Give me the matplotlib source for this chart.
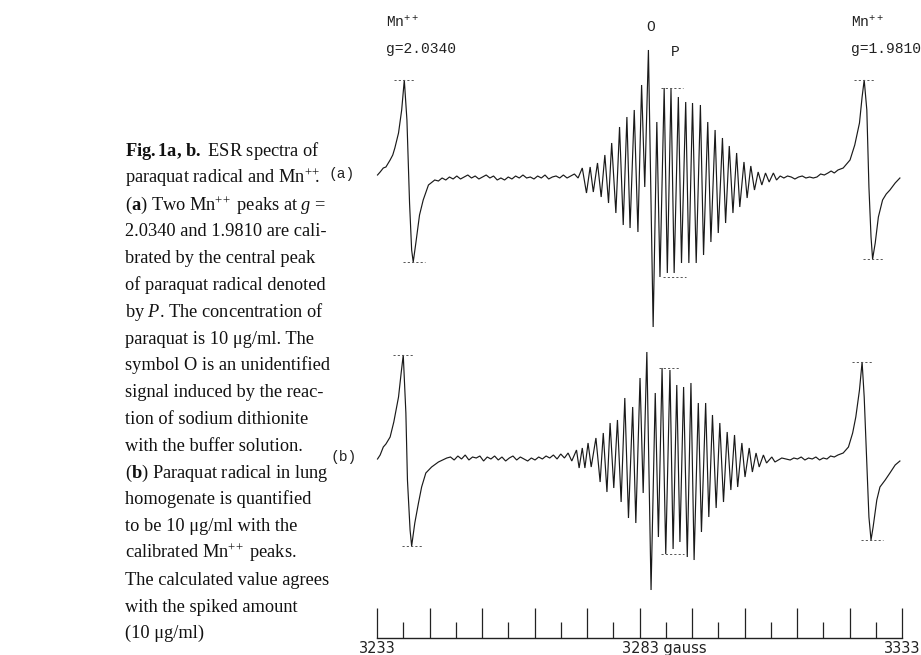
import numpy as np
import matplotlib
matplotlib.use("Agg")
import matplotlib.pyplot as plt
import matplotlib.transforms as mtransforms

plt.rcParams['mathtext.fontset'] = 'custom'
plt.rcParams['mathtext.rm'] = 'Liberation Serif'
plt.rcParams['mathtext.it'] = 'Liberation Serif:italic'
plt.rcParams['mathtext.bf'] = 'Liberation Serif:bold'

# ---------------- data (field in gauss, signal in arbitrary units) ----------------
# spectrum (a)
a_mn_low_field = [3233.1, 3233.6, 3234.2, 3234.7, 3235.5, 3236.0, 3236.4, 3237.1, 3237.7, 3238.2,
                  3238.7, 3239.2, 3239.6, 3239.9, 3240.4, 3241.1, 3241.8, 3242.8, 3244.0]
a_mn_low_signal = [2, 5, 9, 10, 17, 22, 29, 44, 67, 97,
                   57, -26, -73, -85, -66, -38, -23, -8, -3]

a_base1_field = [3244.7, 3245.4, 3246.1, 3246.8, 3247.5, 3248.2, 3248.9, 3249.6, 3250.3, 3251.0,
                 3251.7, 3252.4, 3253.1, 3253.8, 3254.5, 3255.2, 3255.9, 3256.6, 3257.3, 3258.0,
                 3258.7, 3259.4, 3260.1, 3260.8, 3261.5, 3262.2, 3262.9, 3263.6, 3264.3, 3265.0,
                 3265.7, 3266.4, 3267.1, 3267.8, 3268.5, 3269.2, 3269.9, 3270.6, 3271.3]
a_base1_signal = [-4, -1, -3, 0, -2, 1, -2, 0, 2, -1,
                  1, -2, 0, 2, -1, 1, -3, -1, -3, 0,
                  -2, 1, -1, 2, -1, 0, -2, 1, -1, 2,
                  -2, 0, 1, -1, 2, -1, 1, 3, -1]

a_hf_field = [3272.1, 3272.9, 3273.6, 3274.2, 3275.0, 3275.7, 3276.4, 3277.1, 3277.7, 3278.5,
              3279.2, 3279.9, 3280.6, 3281.2, 3282.0, 3282.7, 3283.4, 3284.0, 3284.7, 3285.6,
              3286.3, 3286.9, 3287.7, 3288.3, 3289.0, 3289.6, 3290.4, 3291.0, 3291.8, 3292.4,
              3293.1, 3293.8, 3294.6, 3295.2, 3296.0, 3296.6, 3297.4, 3298.0, 3298.8, 3299.4,
              3300.1, 3300.8, 3301.5, 3302.1, 3302.9, 3303.5, 3304.2, 3304.9, 3305.6, 3306.3,
              3307.0, 3307.7, 3308.5, 3309.1]
a_hf_signal = [9, -16, 10, -15, 14, -20, 22, -26, 34, -36,
               50, -48, 60, -51, 67, -55, 92, -10, 127, -150,
               55, -100, 89, -96, 88, -96, 80, -86, 75, -86,
               74, -86, 72, -78, 55, -65, 47, -56, 39, -46,
               31, -36, 24, -30, 15, -21, 11, -13, 5, -8,
               4, -5, 4, -3]

a_base2_field = [3309.8, 3310.5, 3311.2, 3311.9, 3312.6, 3313.3, 3314.0, 3314.7, 3315.4, 3316.1,
                 3316.8, 3317.5, 3318.2]
a_base2_signal = [1, -1, 1, 0, -2, 0, 1, -1, 0, -1, 0, 3, 2]

a_mn_high_field = [3318.9, 3319.5, 3320.1, 3320.8, 3321.8, 3323.1, 3324.0, 3324.9, 3325.4, 3325.8,
                   3326.3, 3326.7, 3327.1, 3327.4, 3327.9, 3328.5, 3329.3, 3330.0, 3330.7, 3331.7,
                   3332.6]
a_mn_high_signal = [4, 6, 4, 7, 9, 17, 32, 54, 80, 97,
                    67, -10, -60, -82, -66, -40, -23, -17, -13, -6,
                    -1]

# spectrum (b)
b_mn_low_field = [3233.1, 3233.6, 3234.2, 3234.7, 3235.5, 3236.2, 3237.1, 3237.6, 3238.0, 3238.5,
                  3238.8, 3239.3, 3239.6, 3240.2, 3240.9, 3241.5, 3242.3, 3243.4, 3244.7, 3246.3]
b_mn_low_signal = [0, 4, 12, 15, 22, 37, 62, 86, 104, 46,
                   -21, -71, -87, -64, -44, -28, -14, -8, -3, 1]

b_base1_field = [3247.0, 3247.7, 3248.4, 3249.1, 3249.8, 3250.5, 3251.2, 3251.9, 3252.6, 3253.3,
                 3254.0, 3254.7, 3255.4, 3256.1, 3256.8, 3257.5, 3258.2, 3258.9, 3259.6, 3260.3,
                 3261.0, 3261.7, 3262.4, 3263.1, 3263.8, 3264.5, 3265.2, 3265.9, 3266.6, 3267.3,
                 3268.0, 3268.7, 3269.4, 3270.1]
b_base1_signal = [2, -1, 3, 0, 4, -1, 2, 1, 3, -2,
                  2, 0, 3, -1, 2, -2, 1, 3, -1, 2,
                  0, -2, 1, -1, 2, 0, 3, 1, 4, 0,
                  5, 1, 6, -2]

b_hf_field = [3271.0, 3271.5, 3272.1, 3272.6, 3273.2, 3273.8, 3274.7, 3275.5, 3276.1, 3276.8,
              3277.4, 3278.1, 3278.8, 3279.5, 3280.2, 3280.9, 3281.7, 3282.3, 3283.1, 3283.7,
              3284.4, 3285.2, 3286.0, 3286.6, 3287.3, 3288.0, 3288.8, 3289.4, 3290.1, 3290.7,
              3291.4, 3292.1, 3292.8, 3293.4, 3294.2, 3294.8, 3295.6, 3296.2, 3296.9, 3297.6,
              3298.3, 3299.0, 3299.7, 3300.4, 3301.1, 3301.7, 3302.5, 3303.1, 3303.9, 3304.5,
              3305.2, 3305.8, 3306.6, 3307.2, 3308.2, 3308.8, 3310.1, 3311.7]
b_hf_signal = [9, -9, 11, -9, 16, -8, 21, -23, 26, -33,
               36, -29, 39, -43, 61, -59, 52, -64, 81, -34,
               107, -131, 66, -78, 91, -95, 89, -90, 74, -83,
               72, -98, 76, -101, 56, -73, 56, -58, 44, -49,
               36, -43, 27, -31, 24, -28, 16, -18, 11, -13,
               6, -8, 4, -4, 2, -3, 1, -1]

b_base2_field = [3312.4, 3313.1, 3313.8, 3314.5, 3315.2, 3315.9, 3316.6, 3317.3, 3318.0, 3318.7,
                 3319.4, 3320.1, 3320.8]
b_base2_signal = [1, 0, 2, -1, 1, 0, 2, -1, 1, 0, 3, 2, 4]

b_mn_high_field = [3321.8, 3322.8, 3323.6, 3324.2, 3324.9, 3325.4, 3325.8, 3326.3, 3326.7, 3327.1,
                   3327.5, 3328.2, 3328.8, 3329.8, 3330.7, 3331.7, 3332.6]
b_mn_high_signal = [6, 12, 26, 42, 69, 97, 62, -4, -58, -81,
                    -68, -41, -28, -21, -14, -6, -2]

# field scale
field_range = [3233, 3333]
scale_label_fields = [3233, 3283, 3333]
scale_labels = ['3233', '3283 gauss', '3333']

# text
mn_labels = [r'Mn$^{\mathregular{++}}$', r'Mn$^{\mathregular{++}}$']
g_labels = ['g=2.0340', 'g=1.9810']
caption_lines = [
    r'$\mathbf{Fig.1a,\,b.}$ ESR spectra of',
    r'paraquat radical and Mn$^{+\!+}\!\!\!\mathregular{.}$',
    r'($\mathbf{a}$) Two Mn$^{+\!+}$ peaks at $g$ =',
    '2.0340 and 1.9810 are cali-',
    'brated by the central peak',
    'of paraquat radical denoted',
    r'by $P$. The concentration of',
    'paraquat is 10 μg/ml. The',
    'symbol O is an unidentified',
    'signal induced by the reac-',
    'tion of sodium dithionite',
    'with the buffer solution.',
    r'($\mathbf{b}$) Paraquat radical in lung',
    'homogenate is quantified',
    'to be 10 μg/ml with the',
    r'calibrated Mn$^{+\!+}$ peaks.',
    'The calculated value agrees',
    'with the spiked amount',
    '(10 μg/ml)',
]

# ---------------- figure ----------------
W, H = 921, 655
fig = plt.figure(figsize=(W / 100, H / 100), dpi=100)
fig.patch.set_facecolor('white')

def px(x0, y0, x1, y1):
    return [x0 / W, 1 - y1 / H, (x1 - x0) / W, (y1 - y0) / H]

ax_a = fig.add_axes(px(377, 40, 902, 335))
ax_b = fig.add_axes(px(377, 335, 902, 600))
ax_s = fig.add_axes(px(377, 600, 902, 638))

line_kw = dict(color='#1a1a1a', lw=0.85, clip_on=False, solid_joinstyle='miter')
dash_kw = dict(colors='#555555', lw=0.7, linestyles=(0, (2.2, 2.2)))

def draw_spectrum(ax, segments, ylim):
    f = np.concatenate([np.asarray(s[0], float) for s in segments])
    s = np.concatenate([np.asarray(s[1], float) for s in segments])
    ax.plot(f, s, **line_kw)
    ax.set_xlim(*field_range)
    ax.set_ylim(*ylim)
    ax.axis('off')
    return f, s

def mn_marks(ax, f, s):
    f = np.asarray(f, float); s = np.asarray(s, float)
    i1, i2 = np.argmax(s), np.argmin(s)
    ax.hlines(s[i1], f[i1] - 1.9, f[i1] + 1.9, **dash_kw)
    ax.hlines(s[i2], f[i2] - 1.9, f[i2] + 2.2, **dash_kw)

def p_marks(ax, f, s):
    f = np.asarray(f, float); s = np.asarray(s, float)
    win = (f > 3286.5) & (f < 3291.0)
    fw, sw = f[win], s[win]
    top = sw.max(); bot = sw.min()
    fp = fw[np.argmax(sw)]
    ax.hlines(top, fp - 0.6, fp + 3.5, **dash_kw)
    ax.hlines(bot, fp - 0.2, fp + 4.2, **dash_kw)

draw_spectrum(ax_a, [(a_mn_low_field, a_mn_low_signal), (a_base1_field, a_base1_signal),
                     (a_hf_field, a_hf_signal), (a_base2_field, a_base2_signal),
                     (a_mn_high_field, a_mn_high_signal)], (-158, 137))
mn_marks(ax_a, a_mn_low_field, a_mn_low_signal)
mn_marks(ax_a, a_mn_high_field, a_mn_high_signal)
p_marks(ax_a, a_hf_field, a_hf_signal)

draw_spectrum(ax_b, [(b_mn_low_field, b_mn_low_signal), (b_base1_field, b_base1_signal),
                     (b_hf_field, b_hf_signal), (b_base2_field, b_base2_signal),
                     (b_mn_high_field, b_mn_high_signal)], (-141, 124))
mn_marks(ax_b, b_mn_low_field, b_mn_low_signal)
mn_marks(ax_b, b_mn_high_field, b_mn_high_signal)
p_marks(ax_b, b_hf_field, b_hf_signal)

# field scale
ax_s.set_xlim(*field_range)
ax_s.set_ylim(0, 1)
ax_s.patch.set_visible(False)
for sp in ['top', 'left', 'right']:
    ax_s.spines[sp].set_visible(False)
ax_s.spines['bottom'].set_linewidth(1.0)
ax_s.spines['bottom'].set_color('#222222')
ax_s.set_yticks([])
ax_s.set_xticks(np.arange(field_range[0], field_range[1] + 1, 10))
ax_s.set_xticks(np.arange(field_range[0] + 5, field_range[1], 10), minor=True)
ax_s.tick_params(axis='x', which='major', direction='in', length=21.6, width=0.9,
                 color='#222222', labelbottom=False)
ax_s.tick_params(axis='x', which='minor', direction='in', length=11.5, width=0.9,
                 color='#222222')
trans = mtransforms.blended_transform_factory(ax_s.transData, ax_s.transAxes)
for fval, lab in zip(scale_label_fields, scale_labels):
    if ' ' in lab:
        ax_s.annotate(lab, xy=(fval, 0), xycoords=trans, xytext=(-12.5, -2.5),
                      textcoords='offset points', ha='left', va='top',
                      fontsize=10.5, family='DejaVu Sans', color='#222222')
    else:
        ax_s.annotate(lab, xy=(fval, 0), xycoords=trans, xytext=(0, -2.5),
                      textcoords='offset points', ha='center', va='top',
                      fontsize=10.5, family='DejaVu Sans', color='#222222')

# spectrum labels (monospaced, as in the chart recorder annotations)
mono = dict(family='Liberation Mono', fontsize=10.5, color='#222222', va='baseline')
fig.text(386 / W, 1 - 28 / H, mn_labels[0], **mono)
fig.text(386 / W, 1 - 53 / H, g_labels[0], **mono)
fig.text(851 / W, 1 - 28 / H, mn_labels[1], **mono)
fig.text(851 / W, 1 - 53 / H, g_labels[1], **mono)
fig.text(651 / W, 1 - 31 / H, 'O', ha='center', **mono)
fig.text(675 / W, 1 - 56 / H, 'P', ha='center', **mono)
fig.text(328 / W, 1 - 178 / H, '(a)', **mono)
fig.text(330 / W, 1 - 461 / H, '(b)', **mono)

# caption
for i, line in enumerate(caption_lines):
    fig.text(125 / W, 1 - (156 + i * 26.8) / H, line, family='Liberation Serif',
             fontsize=13.2, va='baseline', ha='left', color='#111111')

fig.savefig('out.png', dpi=100, facecolor='white')
